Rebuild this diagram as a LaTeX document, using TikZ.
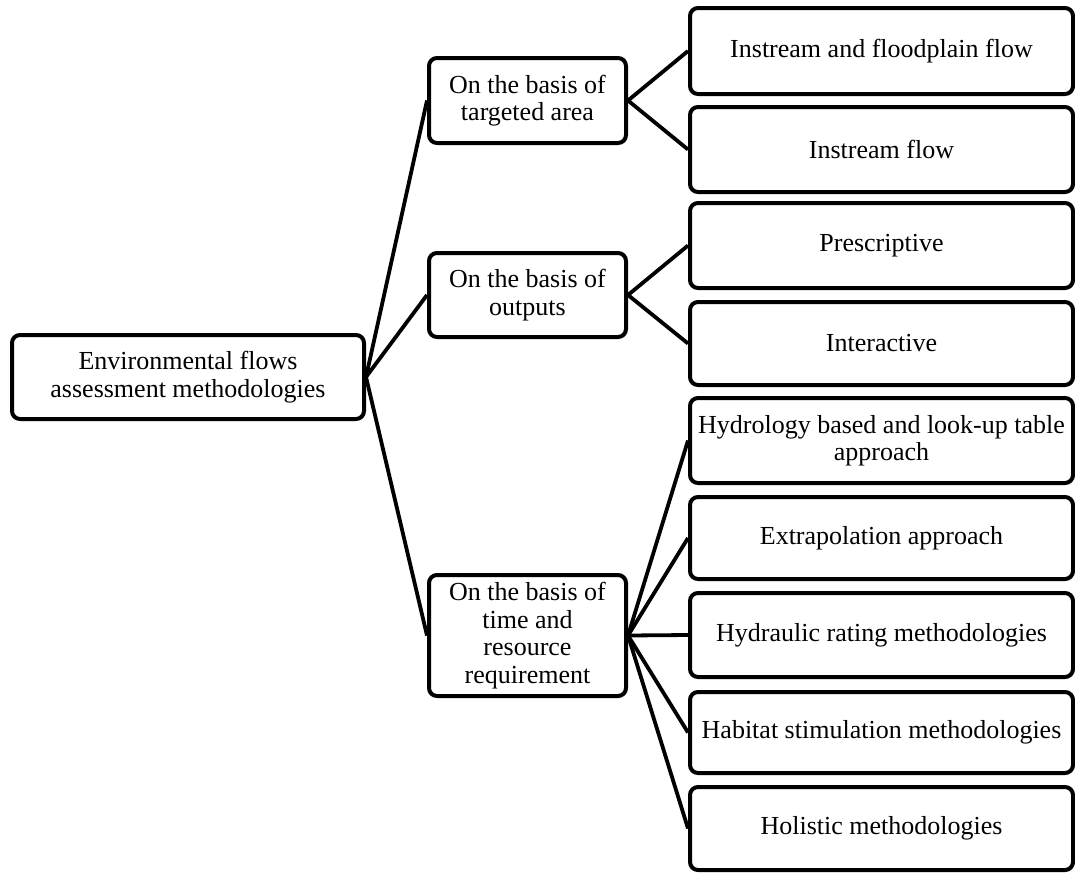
\documentclass[tikz,border=0pt]{standalone}
\usepackage{fontspec}
\setmainfont{Liberation Serif}
\begin{document}
\begin{tikzpicture}[x=1pt,y=-1pt,
  box/.style={draw=black,line width=4pt,rounded corners=8pt,fill=white,
    rectangle,inner sep=0pt,align=center,
    font=\fontsize{26}{27.5}\selectfont},
  link/.style={draw=black,line width=3.8pt}]
  \useasboundingbox (0,0) rectangle (1075,873);
  % root
  \node[box,minimum width=352pt,minimum height=84pt] (root) at (188,377)
    {Environmental flows\\assessment methodologies};
  % categories
  \node[box,minimum width=197pt,minimum height=85pt] (m1) at (527.5,100.5)
    {On the basis of\\targeted area};
  \node[box,minimum width=197pt,minimum height=84pt] (m2) at (527.5,295)
    {On the basis of\\outputs};
  \node[box,minimum width=197pt,minimum height=121pt] (m3) at (527.5,635.5)
    {On the basis of\\time and\\resource\\requirement};
  % leaves
  \tikzset{leaf/.style={box,minimum width=383pt}}
  \node[leaf,minimum height=86pt] (r1) at (881.5,51) {Instream and floodplain flow};
  \node[leaf,minimum height=85pt] (r2) at (881.5,149.5) {Instream flow};
  \node[leaf,minimum height=85pt] (r3) at (881.5,245.5) {Prescriptive};
  \node[leaf,minimum height=83pt] (r4) at (881.5,343.5) {Interactive};
  \node[leaf,minimum height=85pt] (r5) at (881.5,440.5) {Hydrology based and look-up table\\approach};
  \node[leaf,minimum height=82pt] (r6) at (881.5,538) {Extrapolation approach};
  \node[leaf,minimum height=84pt] (r7) at (881.5,635) {Hydraulic rating methodologies};
  \node[leaf,minimum height=81pt] (r8) at (881.5,732.5) {Habitat stimulation methodologies};
  \node[leaf,minimum height=83pt] (r9) at (881.5,828.5) {Holistic methodologies};
  % connectors
  \foreach \m in {m1,m2,m3} \draw[link] (root.east) -- (\m.west);
  \foreach \r in {r1,r2} \draw[link] (m1.east) -- (\r.west);
  \foreach \r in {r3,r4} \draw[link] (m2.east) -- (\r.west);
  \foreach \r in {r5,r6,r7,r8,r9} \draw[link] (m3.east) -- (\r.west);
\end{tikzpicture}
\end{document}
